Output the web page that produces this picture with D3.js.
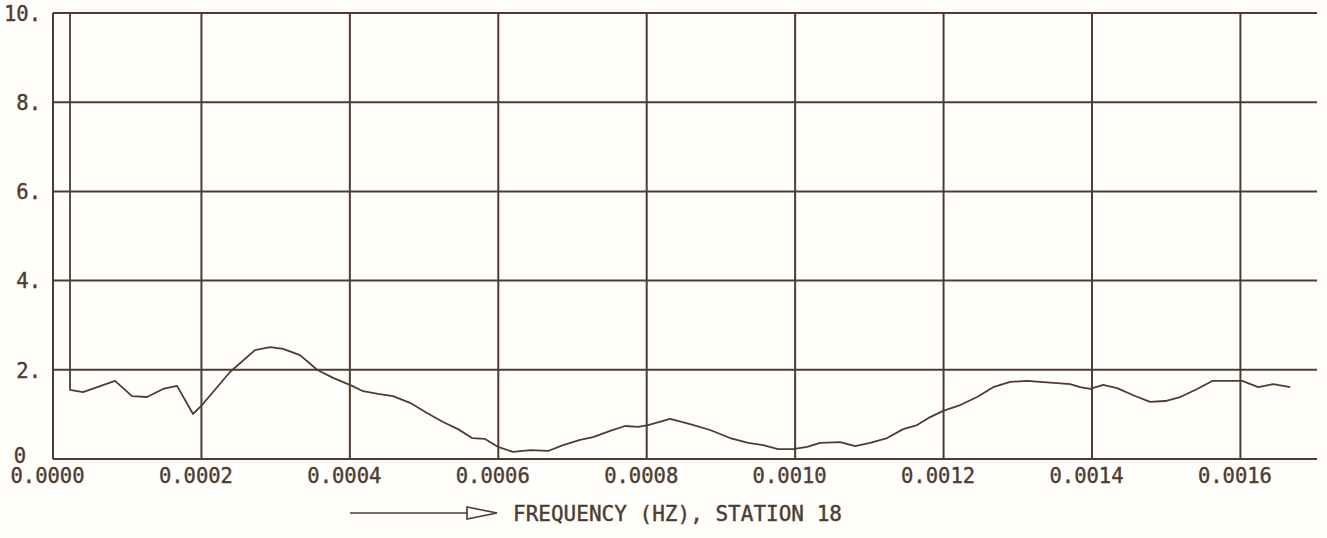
<!DOCTYPE html>
<html>
<head>
<meta charset="utf-8">
<script src="https://cdn.jsdelivr.net/npm/d3@7"></script>
<style>
  html, body { margin: 0; padding: 0; background: #fffefa; }
  svg { display: block; }
  text { font-family: "DejaVu Sans Mono", "Liberation Mono", monospace; fill: #4e3c30; }
</style>
</head>
<body>
<svg id="chart" width="1327" height="538"></svg>
<script>
// Frequency in units of 1e-4 Hz
const freqE4 = [0.229, 0.229, 0.404, 0.836, 1.065, 1.267, 1.482, 1.671, 1.887, 2.008,
  2.385, 2.722, 2.925, 3.100, 3.329, 3.558, 3.774, 4.030, 4.178, 4.380,
  4.582, 4.811, 5.040, 5.256, 5.458, 5.647, 5.822, 5.997, 6.199, 6.429,
  6.671, 6.873, 7.102, 7.278, 7.507, 7.709, 7.884, 8.019, 8.315, 8.585,
  8.854, 9.124, 9.367, 9.569, 9.771, 9.973, 10.162, 10.337, 10.606, 10.809,
  11.011, 11.240, 11.456, 11.644, 11.819, 11.995, 12.224, 12.453, 12.668, 12.898,
  13.127, 13.302, 13.531, 13.706, 13.841, 13.976, 14.151, 14.340, 14.555, 14.784,
  14.987, 15.189, 15.418, 15.620, 15.822, 16.024, 16.240, 16.442, 16.671];
const values = [10.0, 1.55, 1.50, 1.75, 1.41, 1.39, 1.57, 1.64, 1.01, 1.21,
  1.95, 2.44, 2.51, 2.47, 2.33, 2.00, 1.82, 1.64, 1.52, 1.46,
  1.41, 1.26, 1.03, 0.83, 0.67, 0.47, 0.45, 0.27, 0.16, 0.20,
  0.18, 0.31, 0.43, 0.49, 0.63, 0.74, 0.72, 0.76, 0.90, 0.78,
  0.65, 0.47, 0.36, 0.31, 0.22, 0.22, 0.27, 0.36, 0.38, 0.29,
  0.36, 0.47, 0.67, 0.76, 0.94, 1.08, 1.21, 1.39, 1.61, 1.73,
  1.75, 1.73, 1.70, 1.68, 1.61, 1.57, 1.66, 1.59, 1.43, 1.28,
  1.30, 1.39, 1.57, 1.75, 1.75, 1.75, 1.61, 1.68, 1.61];
const xTicks = [0, 0.0002, 0.0004, 0.0006, 0.0008, 0.0010, 0.0012, 0.0014, 0.0016];
const xTickLabels = ["0.0000", "0.0002", "0.0004", "0.0006", "0.0008", "0.0010", "0.0012", "0.0014", "0.0016"];
const yTicks = [0, 2, 4, 6, 8, 10];
const yTickLabels = ["0", "2.", "4.", "6.", "8.", "10."];
const xLabel = "FREQUENCY (HZ), STATION 18";

const ink = "#4e3c30";
const svg = d3.select("#chart");
const mLeft = 53, mRight = 1317, mTop = 13, mBottom = 459;

const x = d3.scaleLinear().domain([0, 0.0017032]).range([mLeft, mRight]);
const y = d3.scaleLinear().domain([0, 10]).range([mBottom, mTop]);

// grid
const g = svg.append("g");
g.selectAll("line.v").data(xTicks).join("line").attr("class", "v")
  .attr("x1", d => x(d)).attr("x2", d => x(d))
  .attr("y1", mTop).attr("y2", mBottom)
  .attr("stroke", ink).attr("stroke-width", 2);
g.selectAll("line.h").data(yTicks).join("line").attr("class", "h")
  .attr("x1", mLeft).attr("x2", mRight)
  .attr("y1", d => y(d)).attr("y2", d => y(d))
  .attr("stroke", ink).attr("stroke-width", 2);

// axes labels via d3 axes
const xAxis = d3.axisBottom(x).tickValues(xTicks)
  .tickFormat((d, i) => xTickLabels[i]).tickSize(0).tickPadding(0);
const xa = svg.append("g").attr("transform", `translate(0,${mBottom})`).call(xAxis);
xa.select(".domain").remove();
xa.selectAll("text").attr("font-size", 20.5).attr("dy", 0).attr("y", 24).attr("dx", -6)
  .style("font-family", '"DejaVu Sans Mono", monospace').attr("fill", ink)
  .attr("stroke", ink).attr("stroke-width", 0.4);

const yAxis = d3.axisLeft(y).tickValues(yTicks)
  .tickFormat((d, i) => yTickLabels[i]).tickSize(0).tickPadding(0);
const ya = svg.append("g").attr("transform", `translate(41,0)`).call(yAxis);
ya.select(".domain").remove();
ya.selectAll("text").attr("font-size", 20.5).attr("dy", "0.36em")
  .style("font-family", '"DejaVu Sans Mono", monospace').attr("fill", ink)
  .attr("stroke", ink).attr("stroke-width", 0.4);
ya.selectAll(".tick").filter(d => d === 0).select("text").attr("dy", "0.15em").attr("x", -15);

// data line
const pts = freqE4.map((f, i) => [f * 1e-4, values[i]]);
const line = d3.line().x(d => x(d[0])).y(d => y(d[1]));
svg.append("path").datum(pts).attr("d", line)
  .attr("fill", "none").attr("stroke", ink).attr("stroke-width", 1.8)
  .attr("stroke-linejoin", "round");

// x label with arrow
svg.append("line").attr("x1", 350).attr("x2", 468).attr("y1", 513).attr("y2", 513)
  .attr("stroke", ink).attr("stroke-width", 1.6);
svg.append("path").attr("d", "M467,507 L497,513 L467,519 Z")
  .attr("fill", "none").attr("stroke", ink).attr("stroke-width", 1.6);
svg.append("text").attr("x", 513).attr("y", 521).attr("font-size", 21)
  .attr("textLength", 329).attr("lengthAdjust", "spacingAndGlyphs")
  .attr("stroke", ink).attr("stroke-width", 0.4)
  .text(xLabel);
</script>
</body>
</html>
